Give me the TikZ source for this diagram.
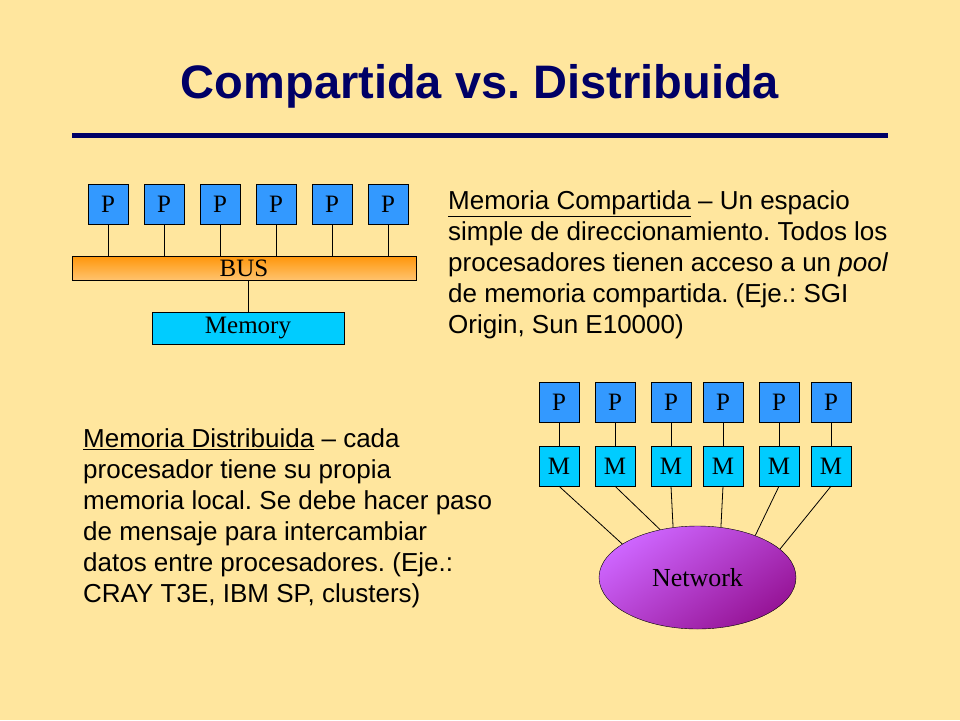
\documentclass[tikz,border=0pt]{standalone}
\usepackage{fontspec}
\setmainfont{Liberation Sans}
\newfontfamily\boxfont{Liberation Serif}
\usetikzlibrary{shapes.geometric}
\definecolor{slideBg}{RGB}{255,230,158}
\definecolor{titleBlue}{RGB}{0,0,102}
\definecolor{procBlue}{RGB}{51,153,255}
\definecolor{memCyan}{RGB}{0,204,255}
\definecolor{busDark}{RGB}{255,150,10}
\definecolor{busLight}{RGB}{255,195,110}
\definecolor{netLight}{RGB}{206,102,255}
\definecolor{netDark}{RGB}{150,20,150}
\tikzstyle{pBox} = [rectangle, minimum width=40pt, minimum height=40pt, inner sep=0pt, draw=black, fill=procBlue, font=\boxfont\fontsize{25}{28}\selectfont]
\tikzstyle{mBox} = [pBox, fill=memCyan]
\tikzstyle{busBar} = [rectangle, minimum width=344pt, minimum height=24pt, inner sep=0pt, draw=black, top color=busDark, bottom color=busLight, font=\boxfont\fontsize{25}{28}\selectfont]
\tikzstyle{memBar} = [rectangle, minimum width=192pt, minimum height=32pt, inner sep=0pt, draw=black, fill=memCyan, font=\boxfont\fontsize{25}{28}\selectfont]
\tikzstyle{netCloud} = [ellipse, minimum width=197pt, minimum height=103pt, inner sep=0pt, draw=black, shading=axis, left color=netLight, right color=netDark, shading angle=35, font=\boxfont\fontsize{26}{30}\selectfont]
\tikzstyle{bodyText} = [anchor=north west, align=left, inner sep=0pt, font=\fontsize{26}{31}\selectfont]
\tikzstyle{wire} = [black, line width=0.8pt]

\begin{document}
\frenchspacing
\begin{tikzpicture}[x=1pt, y=-1pt]
    \fill[slideBg] (0,0) rectangle (960,720);
    \useasboundingbox (0,0) rectangle (960,720);

    \node (title) at (480,86) [font=\bfseries\fontsize{47}{54}\selectfont, text=titleBlue] {Compartida vs. Distribuida};
    \draw[titleBlue, line width=5pt] (72,135) -- (888,135);

    % shared memory
    \node (p1) at (108,204) [pBox] {P};
    \node (p2) at (164,204) [pBox] {P};
    \node (p3) at (220,204) [pBox] {P};
    \node (p4) at (276,204) [pBox] {P};
    \node (p5) at (332,204) [pBox] {P};
    \node (p6) at (388,204) [pBox] {P};
    \node (bus) at (244,268) [busBar] {BUS};
    \node (memory) at (248,328) [memBar] {Memory};

    \draw [wire] (p1.south) -- (p1.south |- bus.north);
    \draw [wire] (p2.south) -- (p2.south |- bus.north);
    \draw [wire] (p3.south) -- (p3.south |- bus.north);
    \draw [wire] (p4.south) -- (p4.south |- bus.north);
    \draw [wire] (p5.south) -- (p5.south |- bus.north);
    \draw [wire] (p6.south) -- (p6.south |- bus.north);
    \draw [wire] (memory.north) -- (memory.north |- bus.south);

    \node (sharedText) at (448,190) [bodyText] {\underline{Memoria Compartida} -- Un espacio\\simple de direccionamiento. Todos los\\procesadores tienen acceso a un \textit{pool}\\de memoria compartida. (Eje.: SGI\\Origin, Sun E10000)};

    % distributed memory
    \node (q1) at (559,402) [pBox] {P};
    \node (q2) at (615,402) [pBox] {P};
    \node (q3) at (671,402) [pBox] {P};
    \node (q4) at (723,402) [pBox] {P};
    \node (q5) at (779,402) [pBox] {P};
    \node (q6) at (831,402) [pBox] {P};
    \node (m1) at (559,466) [mBox] {M};
    \node (m2) at (615,466) [mBox] {M};
    \node (m3) at (671,466) [mBox] {M};
    \node (m4) at (723,466) [mBox] {M};
    \node (m5) at (779,466) [mBox] {M};
    \node (m6) at (831,466) [mBox] {M};
    \node (network) at (697.5,577.5) [netCloud] {Network};

    \draw [wire] (q1) -- (m1);
    \draw [wire] (q2) -- (m2);
    \draw [wire] (q3) -- (m3);
    \draw [wire] (q4) -- (m4);
    \draw [wire] (q5) -- (m5);
    \draw [wire] (q6) -- (m6);
    \draw [wire] (m1.south) -- (network.156);
    \draw [wire] (m2.south) -- (network.128);
    \draw [wire] (m3.south) -- (network.116);
    \draw [wire] (m4.south) -- (network.65);
    \draw [wire] (m5.south) -- (network.36);
    \draw [wire] (m6.south) -- (network.19);

    \node (distText) at (83,428) [bodyText] {\underline{Memoria Distribuida} -- cada\\procesador tiene su propia\\memoria local. Se debe hacer paso\\de mensaje para intercambiar\\datos entre procesadores. (Eje.:\\CRAY T3E, IBM SP, clusters)};
\end{tikzpicture}
\end{document}
